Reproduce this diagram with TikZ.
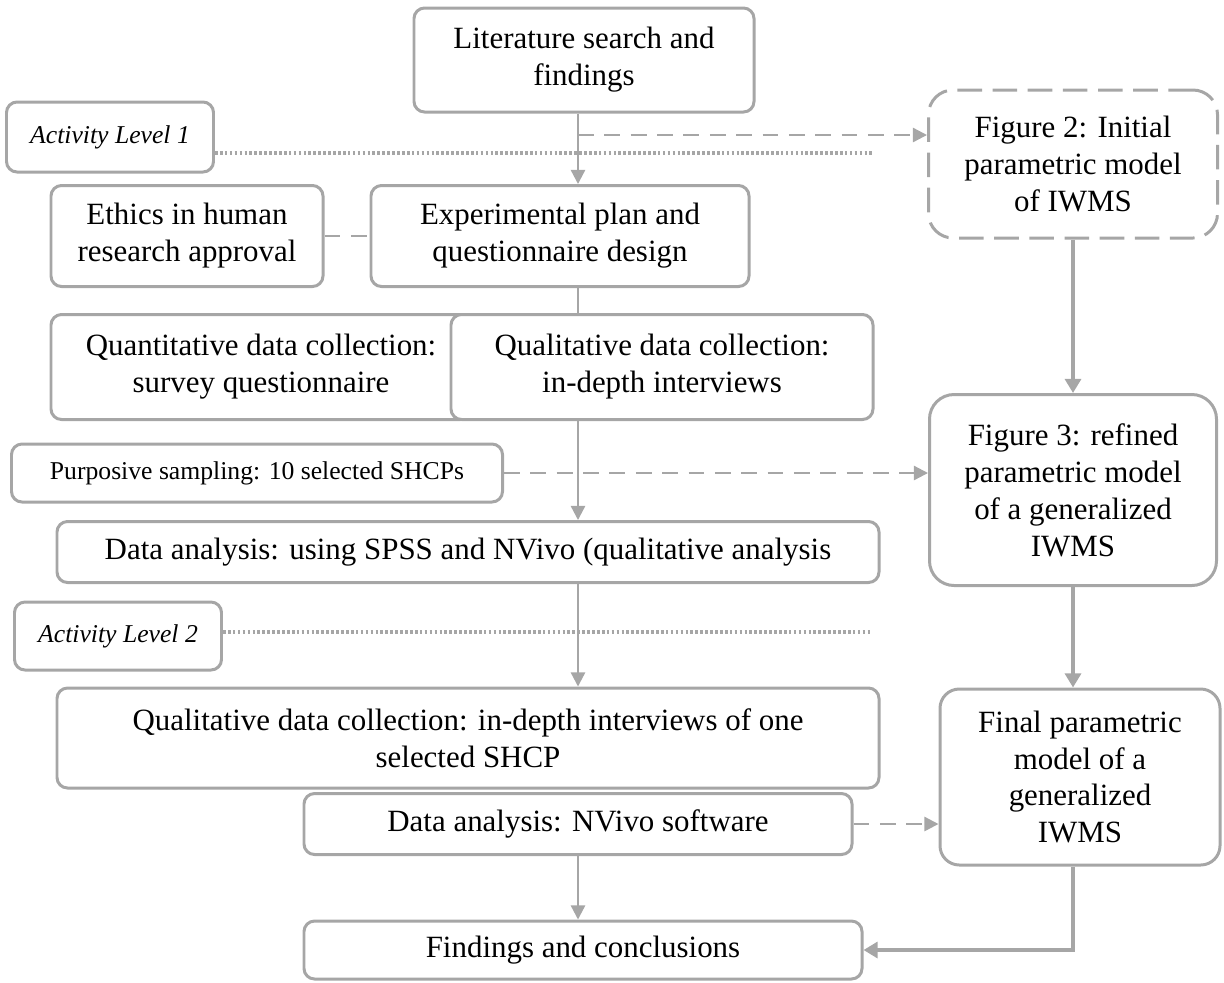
\documentclass[tikz,border=0pt]{standalone}
\usepackage{fontspec}
\setmainfont{Liberation Serif}
\usetikzlibrary{arrows.meta}
\definecolor{linegray}{HTML}{A6A6A6}
\tikzset{
  box/.style={draw=linegray, line width=1.7pt, rounded corners=6pt, fill=white,
    align=center, inner sep=0pt, font=\fontsize{17.6}{21}\selectfont},
  smallbox/.style={box, font=\fontsize{14.6}{17.5}\selectfont},
  figbox/.style={box, rounded corners=14pt},
  link/.style={draw=linegray, line width=1.3pt},
  flow/.style={link, -{Triangle[length=8pt, width=8pt]}},
  dlink/.style={link, dash pattern=on 9pt off 6pt},
  dflow/.style={flow, dash pattern=on 9pt off 6pt},
  thickflow/.style={draw=linegray, line width=2.6pt, -{Triangle[length=8pt, width=9pt]}},
  level/.style={draw=linegray, line width=1.9pt, dash pattern=on 1.5pt off 1.3pt}
}
\begin{document}
\begin{tikzpicture}[x=0.2mm, y=-0.2mm]
        \useasboundingbox (0, 0) rectangle (1224, 982);
        \coordinate (spine) at (578, 0);
        \node[box, minimum width=68mm, minimum height=20.8mm] (lit) at (584, 60)
        {Literature search and\\findings};
        \node[smallbox, minimum width=41.4mm, minimum height=14mm] (act1) at (110, 137)
        {\itshape Activity Level 1};
        \node[figbox, dash pattern=on 14pt off 6pt, minimum width=57.8mm, minimum height=29.6mm]
        (fig2) at (1073, 164) {Figure 2: Initial\\parametric model\\of IWMS};
        \node[box, minimum width=54.4mm, minimum height=20.2mm] (ethics) at (187, 236)
        {Ethics in human\\research approval};
        \node[box, minimum width=75.6mm, minimum height=20.2mm] (exp) at (560, 236)
        {Experimental plan and\\questionnaire design};
        \node[box, minimum width=84mm, minimum height=21mm] (quant) at (261, 367)
        {Quantitative data collection:\\survey questionnaire};
        \node[box, minimum width=84.4mm, minimum height=21mm] (qual) at (662, 367)
        {Qualitative data collection:\\in-depth interviews};
        \node[smallbox, minimum width=98.2mm, minimum height=11.6mm] (purp) at (257, 473)
        {Purposive sampling: 10 selected SHCPs};
        \node[figbox, minimum width=57.4mm, minimum height=38.2mm] (fig3) at (1073, 490)
        {Figure 3: refined\\parametric model\\of a generalized\\IWMS};
        \node[box, minimum width=164.4mm, minimum height=12.2mm] (spss) at (468, 552)
        {Data analysis: using SPSS and NVivo (qualitative analysis};
        \node[smallbox, minimum width=41.4mm, minimum height=13.6mm] (act2) at (118, 636)
        {\itshape Activity Level 2};
        \node[box, minimum width=164.4mm, minimum height=20mm] (qual2) at (468, 738)
        {Qualitative data collection: in-depth interviews of one\\selected SHCP};
        \node[figbox, rounded corners=11pt, minimum width=56mm, minimum height=35.2mm]
        (final) at (1080, 777) {Final parametric\\model of a\\generalized\\IWMS};
        \node[box, minimum width=109.6mm, minimum height=12.2mm] (nvivo) at (578, 824)
        {Data analysis: NVivo software};
        \node[box, minimum width=111.6mm, minimum height=11.6mm] (find) at (583, 950)
        {Findings and conclusions};

        \coordinate (tap1) at (578, 135);
        \coordinate (lvl1) at (872, 153);
        \coordinate (lvl2) at (872, 632);
        \draw[flow] (lit.south -| spine) -- (exp.north -| spine);
        \draw[dflow] (tap1) -- (tap1 -| fig2.west);
        \draw[level] (act1.east |- lvl1) -- (lvl1);
        \draw[dlink] (ethics) -- (exp);
        \draw[link] (exp.south -| spine) -- (qual.north -| spine);
        \draw[flow] (qual.south -| spine) -- (spss.north -| spine);
        \draw[dflow] (purp.east) -- (purp.east -| fig3.west);
        \draw[flow] (spss.south -| spine) -- (qual2.north -| spine);
        \draw[level] (act2.east |- lvl2) -- (lvl2);
        \draw[flow] (nvivo.south -| spine) -- (find.north -| spine);
        \draw[dflow] (nvivo.east) -- (nvivo.east -| final.west);
        \draw[thickflow] (fig2) -- (fig3);
        \draw[thickflow] (fig3.south) -- (fig3.south |- final.north);
        \draw[thickflow] (final.south -| fig3.south) |- (find.east);
      \end{tikzpicture}
\end{document}
